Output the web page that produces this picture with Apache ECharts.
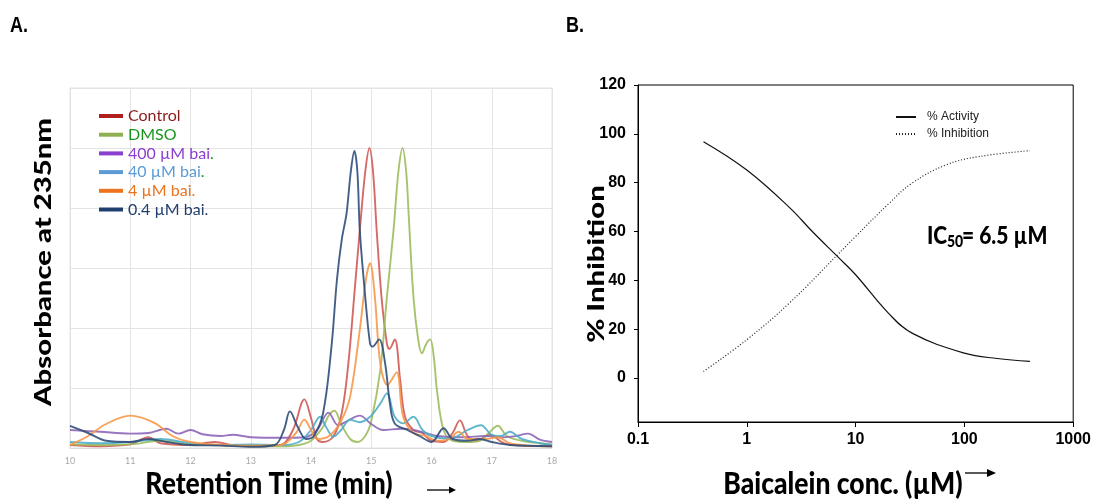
<!DOCTYPE html>
<html><head><meta charset="utf-8">
<script src="https://cdn.jsdelivr.net/npm/echarts@6/dist/echarts.min.js"></script>
<style>html,body{margin:0;padding:0;background:#fff}#c{width:1094px;height:499px}</style>
</head><body><div id="c"></div>
<script>
// ---------- Panel A: chromatograms (retention time [min], absorbance) ----------
const seriesNamesA = ['Control', 'DMSO', '400 µM bai.', '40 µM bai.', '4 µM bai.', '0.4 µM bai.'];
const timeTicks = [10, 11, 12, 13, 14, 15, 16, 17, 18];
const controlData = [[10,0.05],[10.5,0.03],[11,0.06],[11.3,0.18],[11.5,0.08],[12,0.05],[12.4,0.1],[12.7,0.05],[13,0.03],[13.5,0.05],[13.7,0.3],[13.89,0.81],[14.0,0.5],[14.1,0.15],[14.2,0.1],[14.37,0.19],[14.51,0.58],[14.62,1.41],[14.73,2.69],[14.81,3.63],[14.9,4.6],[14.97,5.0],[15.03,4.6],[15.09,3.63],[15.17,2.52],[15.26,1.74],[15.3,1.65],[15.39,1.81],[15.48,1.13],[15.56,0.52],[15.7,0.3],[15.85,0.25],[15.98,0.13],[16.2,0.1],[16.35,0.25],[16.47,0.46],[16.6,0.2],[16.75,0.12],[16.97,0.22],[17.2,0.08],[17.5,0.04],[18,0.03]];
const dmsoData = [[10,0.06],[10.5,0.05],[11,0.06],[11.5,0.12],[12,0.06],[12.5,0.05],[13,0.03],[13.5,0.03],[13.8,0.05],[14.0,0.12],[14.2,0.35],[14.3,0.55],[14.39,0.62],[14.5,0.4],[14.65,0.15],[14.77,0.1],[14.9,0.2],[15.0,0.45],[15.15,1.3],[15.26,2.52],[15.37,3.63],[15.45,4.6],[15.52,5.0],[15.58,4.6],[15.62,3.91],[15.70,2.52],[15.78,1.8],[15.84,1.58],[15.92,1.75],[15.98,1.81],[16.04,1.5],[16.09,0.97],[16.2,0.3],[16.35,0.12],[16.6,0.1],[16.8,0.12],[16.95,0.25],[17.1,0.37],[17.25,0.2],[17.5,0.12],[17.8,0.08],[18,0.06]];
const bai400Data = [[10,0.3],[10.5,0.27],[11,0.24],[11.3,0.25],[11.6,0.32],[11.8,0.24],[12.0,0.3],[12.2,0.23],[12.5,0.2],[12.7,0.22],[13.0,0.18],[13.5,0.17],[13.9,0.18],[14.1,0.3],[14.29,0.59],[14.45,0.38],[14.6,0.45],[14.81,0.54],[15.0,0.4],[15.2,0.3],[15.5,0.32],[15.7,0.3],[15.9,0.25],[16.1,0.2],[16.5,0.18],[16.9,0.2],[17.2,0.18],[17.4,0.2],[17.6,0.24],[17.8,0.14],[18,0.1]];
const bai40Data = [[10,0.1],[10.5,0.08],[11,0.1],[11.5,0.15],[12,0.08],[12.5,0.05],[13,0.06],[13.5,0.05],[13.8,0.1],[14.0,0.3],[14.15,0.52],[14.25,0.35],[14.37,0.19],[14.5,0.3],[14.65,0.47],[14.81,0.43],[14.98,0.52],[15.15,0.74],[15.26,0.91],[15.39,0.52],[15.53,0.41],[15.7,0.52],[15.85,0.3],[16.0,0.2],[16.3,0.15],[16.6,0.3],[16.82,0.38],[17.0,0.22],[17.15,0.2],[17.3,0.27],[17.5,0.15],[17.8,0.08],[18,0.05]];
const bai4Data = [[10,0.05],[10.3,0.2],[10.6,0.4],[11.0,0.54],[11.4,0.42],[11.7,0.2],[12.0,0.1],[12.5,0.05],[13,0.04],[13.5,0.05],[13.75,0.25],[13.89,0.47],[14.0,0.3],[14.1,0.15],[14.3,0.2],[14.5,0.45],[14.65,0.86],[14.81,1.97],[14.91,2.8],[14.98,3.08],[15.06,2.52],[15.15,1.41],[15.27,1.05],[15.42,1.26],[15.53,0.52],[15.7,0.25],[15.9,0.2],[16.1,0.12],[16.3,0.15],[16.45,0.27],[16.6,0.15],[16.9,0.15],[17.1,0.18],[17.3,0.08],[17.6,0.04],[18,0.03]];
const bai04Data = [[10,0.37],[10.3,0.25],[10.6,0.12],[11.0,0.1],[11.3,0.15],[11.6,0.1],[12.0,0.05],[12.5,0.04],[13.0,0.02],[13.4,0.05],[13.55,0.3],[13.65,0.61],[13.78,0.35],[13.92,0.15],[14.04,0.19],[14.2,0.58],[14.34,1.69],[14.43,2.8],[14.51,3.47],[14.59,3.91],[14.66,4.6],[14.72,4.95],[14.77,4.6],[14.81,3.63],[14.9,2.52],[14.98,1.74],[15.02,1.69],[15.13,1.81],[15.23,1.41],[15.31,0.74],[15.39,0.41],[15.6,0.3],[15.8,0.2],[16.0,0.1],[16.2,0.33],[16.35,0.15],[16.6,0.12],[16.8,0.15],[17.0,0.1],[17.3,0.05],[18,0.03]];

// ---------- Panel B: dose response (Baicalein conc. [µM], %) ----------
const seriesNamesB = ['% Activity', '% Inhibition'];
const activityData = [[0.4,96.8],[1,85.2],[2.5,69.6],[4,60],[6.8,49.8],[10,42.3],[20,26.6],[33,18.4],[100,10.2],[200,8.0],[400,6.8]];
const inhibitionData = [[0.4,2.7],[1,15.7],[2.5,31],[6.8,50.4],[10,58],[20.4,71.6],[33,79.8],[68,87.3],[136,90.7],[400,93.1]];
const percentTicks = [0, 20, 40, 60, 80, 100, 120];

const lineColorsA = ['#cf5652', '#9bbb59', '#8b62b5', '#4bacc6', '#f79646', '#2b4a78'];
const swatchColorsA = ['#b01e1e', '#8fb04e', '#8a3fd0', '#5b9bd5', '#ec7420', '#203f6e'];
const textColorsA = ['#8b1a1a', '#18951c', '#8a3fd0', '#5b9bd5', '#ec7420', '#203f6e'];
const dataA = [controlData, dmsoData, bai400Data, bai40Data, bai4Data, bai04Data];

const chart = echarts.init(document.getElementById('c'), null, {renderer: 'canvas'});
const FT = 'Lato, "Open Sans", sans-serif';
const AR = '"Liberation Sans", Arial, sans-serif';
const seriesA = dataA.map((d, i) => ({
  name: seriesNamesA[i], type: 'line', xAxisIndex: 0, yAxisIndex: 0, data: d,
  smooth: 0.35, symbol: 'none', z: 3,
  lineStyle: {color: lineColorsA[i], width: 1.9, opacity: 0.88}, itemStyle: {color: lineColorsA[i]}
}));
const richA = {
  p: {color: textColorsA[2], fontSize: 16, lineHeight: 15, fontFamily: FT},
  b: {color: textColorsA[3], fontSize: 16, lineHeight: 15, fontFamily: FT},
  g: {color: '#18951c', fontSize: 16, lineHeight: 15, fontFamily: FT}
};
const option = {
  animation: false,
  backgroundColor: '#fff',
  grid: [
    {left: 70, right: 542, top: 88, bottom: 51, show: true, borderColor: '#e2e2e2', borderWidth: 1},
    {left: 638, right: 20, top: 85, bottom: 77, show: true, borderColor: '#000', borderWidth: 1}
  ],
  xAxis: [
    {type: 'value', gridIndex: 0, min: 10, max: 18, interval: 1,
     axisLine: {lineStyle: {color: '#dcdcdc'}}, axisTick: {show: false},
     axisLabel: {color: '#a8a8a8', fontSize: 9, margin: 9, fontFamily: FT,
       formatter: v => timeTicks.includes(v) ? String(v) : ''},
     splitLine: {show: true, lineStyle: {color: '#e4e4e4', width: 1}}},
    {type: 'log', logBase: 10, gridIndex: 1, min: 0.1, max: 1000,
     axisLine: {onZero: false, lineStyle: {color: '#000', width: 1}}, axisTick: {show: true, length: 5, lineStyle: {color: '#000'}},
     axisLabel: {color: '#000', fontSize: 16, fontWeight: 'bold', fontFamily: AR, margin: 10,
       formatter: v => String(Math.round(v * 10) / 10)},
     splitLine: {show: false}, minorTick: {show: false}}
  ],
  yAxis: [
    {type: 'value', gridIndex: 0, min: 0, max: 6, interval: 1,
     axisLine: {show: true, lineStyle: {color: '#e2e2e2'}}, axisTick: {show: false}, axisLabel: {show: false},
     splitLine: {show: true, lineStyle: {color: '#e4e4e4', width: 1}}},
    {type: 'value', gridIndex: 1, min: -18, max: 120,
     axisLine: {show: true, onZero: false, lineStyle: {color: '#000', width: 1}},
     axisTick: {show: true, length: 4, customValues: percentTicks, lineStyle: {color: '#000'}},
     axisLabel: {show: true, customValues: percentTicks, color: '#000', fontSize: 16, fontWeight: 'bold',
       fontFamily: AR, margin: 12},
     splitLine: {show: false}}
  ],
  legend: [
    {orient: 'vertical', left: 94, top: 103, icon: 'rect', itemWidth: 24, itemHeight: 4, itemGap: 2.7,
     textStyle: {fontFamily: FT, fontSize: 16, lineHeight: 15, padding: [0, 0, 0, 0], rich: richA},
     formatter: n => n === '400 µM bai.' ? '{p|400 µM bai}{g|.}' : (n === '40 µM bai.' ? '{b|40 µM bai}{g|.}' : n),
     data: seriesNamesA.map((n, i) => ({name: n, textStyle: {color: textColorsA[i]}, itemStyle: {color: swatchColorsA[i]}})),
     selectedMode: false},
    {orient: 'vertical', left: 890, top: 106, itemWidth: 20, itemHeight: 8, itemGap: 5,
     itemStyle: {opacity: 0},
     textStyle: {fontFamily: AR, fontSize: 12, color: '#222', padding: [0, 0, 0, 6]},
     data: seriesNamesB, selectedMode: false}
  ],
  series: seriesA.concat([
    {name: seriesNamesB[0], type: 'line', xAxisIndex: 1, yAxisIndex: 1, data: activityData, smooth: 0.4, symbol: 'none',
     lineStyle: {color: '#111', width: 1.2, type: 'solid'}, itemStyle: {color: '#111'}},
    {name: seriesNamesB[1], type: 'line', xAxisIndex: 1, yAxisIndex: 1, data: inhibitionData, smooth: 0.4, symbol: 'none',
     lineStyle: {color: '#222', width: 1.2, type: [1, 2]}, itemStyle: {color: '#222'}}
  ]),
  graphic: [
    {type: 'text', x: 10, y: 26, scaleY: 1.2, style: {text: 'A.', fontSize: 18, fontWeight: 'bold', fontFamily: AR, fill: '#000', verticalAlign: 'middle'}},
    {type: 'text', x: 566, y: 26, scaleY: 1.2, style: {text: 'B.', fontSize: 18, fontWeight: 'bold', fontFamily: AR, fill: '#000', verticalAlign: 'middle'}},
    {type: 'text', x: 44, y: 262, rotation: Math.PI / 2, scaleX: 1.33, style: {text: 'Absorbance at 235nm', fontSize: 22, fontWeight: 900, fontFamily: FT, fill: '#000', align: 'center', verticalAlign: 'middle'}},
    {type: 'text', x: 269, y: 484, scaleY: 1.15, style: {text: 'Retention Time (min)', fontSize: 26.5, fontWeight: 900, fontFamily: FT, fill: '#000', align: 'center', verticalAlign: 'middle'}},
    {type: 'text', x: 597, y: 264, rotation: Math.PI / 2, scaleX: 1.33, style: {text: '% Inhibition', fontSize: 22, fontWeight: 900, fontFamily: FT, fill: '#000', align: 'center', verticalAlign: 'middle'}},
    {type: 'text', x: 843, y: 484, scaleY: 1.15, style: {text: 'Baicalein conc. (µM)', fontSize: 26.5, fontWeight: 900, fontFamily: FT, fill: '#000', align: 'center', verticalAlign: 'middle'}},
    {type: 'text', x: 927, y: 236, scaleY: 1.15, style: {text: 'IC', fontSize: 21, fontWeight: 900, fontFamily: FT, fill: '#000', verticalAlign: 'middle'}},
    {type: 'text', x: 947, y: 242, scaleY: 1.15, style: {text: '50', fontSize: 14, fontWeight: 900, fontFamily: FT, fill: '#000', verticalAlign: 'middle'}},
    {type: 'text', x: 962, y: 236, scaleY: 1.15, style: {text: '= 6.5 µM', fontSize: 21, fontWeight: 900, fontFamily: FT, fill: '#000', verticalAlign: 'middle'}},
    {type: 'line', shape: {x1: 427, y1: 490, x2: 450, y2: 490}, style: {stroke: '#000', lineWidth: 1.3}},
    {type: 'polygon', shape: {points: [[449, 486.5], [456, 490], [449, 493.5]]}, style: {fill: '#000'}},
    {type: 'line', shape: {x1: 965, y1: 473, x2: 988, y2: 473}, style: {stroke: '#000', lineWidth: 1.3}},
    {type: 'polygon', shape: {points: [[987, 469], [996, 473], [987, 477]]}, style: {fill: '#000'}}
  ]
};
chart.setOption(option);
</script></body></html>
